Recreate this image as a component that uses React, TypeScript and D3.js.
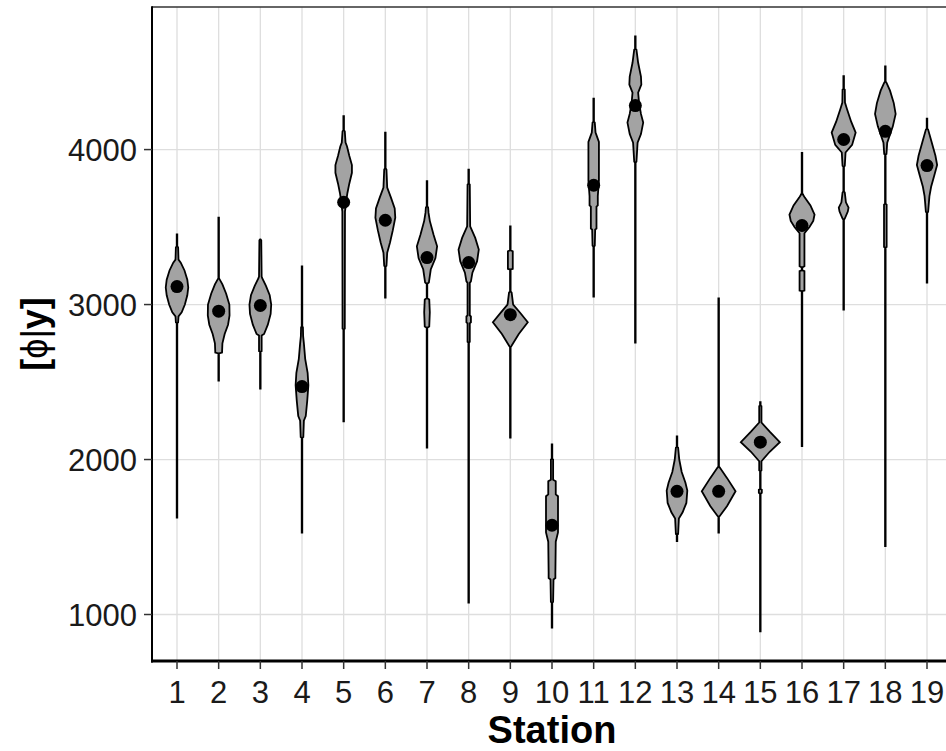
import React from "react";
import * as d3 from "d3";

const stations = ["1","2","3","4","5","6","7","8","9","10","11","12","13","14","15","16","17","18","19"];
const yTicks = [1000, 2000, 3000, 4000];
const means = [3116, 2957, 2994, 2471, 3660, 3544, 3303, 3271, 2935, 1576, 3770, 4284, 1795, 1795, 2112, 3510, 4065, 4118, 3897];

// density profiles: [value, relative half-width]
const dens1 = [[1626,0.015],[2880,0.015],[2885,0.06],[2924,0.08],[2950,0.25],[3000,0.42],[3060,0.55],[3110,0.6],[3160,0.55],[3220,0.4],[3270,0.2],[3290,0.08],[3370,0.06],[3375,0.015],[3452,0.015]];
const dens2 = [[2510,0.015],[2685,0.015],[2690,0.18],[2750,0.2],[2810,0.32],[2870,0.5],[2930,0.58],[3000,0.57],[3070,0.4],[3130,0.2],[3161,0.06],[3170,0.015],[3561,0.015]];
const dens3 = [[2458,0.015],[2697,0.015],[2700,0.07],[2800,0.07],[2810,0.2],[2870,0.4],[2940,0.55],[3000,0.58],[3060,0.5],[3120,0.3],[3170,0.1],[3180,0.07],[3415,0.05],[3420,0.015]];
const dens4 = [[1529,0.015],[2140,0.015],[2145,0.07],[2250,0.1],[2280,0.2],[2380,0.28],[2480,0.34],[2560,0.3],[2650,0.17],[2750,0.1],[2796,0.06],[2852,0.05],[2860,0.015],[3247,0.015]];
const dens5 = [[2247,0.015],[2839,0.015],[2845,0.06],[3600,0.07],[3680,0.15],[3720,0.2],[3780,0.3],[3850,0.44],[3900,0.44],[3960,0.3],[4020,0.18],[4045,0.1],[4118,0.06],[4125,0.015],[4215,0.015]];
const dens6 = [[3045,0.015],[3245,0.015],[3250,0.06],[3335,0.1],[3400,0.25],[3480,0.4],[3560,0.53],[3620,0.5],[3690,0.3],[3755,0.1],[3871,0.06],[3880,0.015],[4110,0.015]];
const dens7 = [[2077,0.015],[2850,0.015],[2858,0.12],[2950,0.15],[3032,0.12],[3040,0.015],[3135,0.015],[3142,0.1],[3226,0.2],[3300,0.45],[3376,0.54],[3450,0.35],[3540,0.15],[3593,0.08],[3626,0.06],[3635,0.015],[3796,0.015]];
const dens8 = [[1077,0.015],[2755,0.015],[2760,0.06],[2880,0.06],[2885,0.12],[2923,0.12],[2930,0.06],[3140,0.06],[3150,0.12],[3206,0.2],[3280,0.45],[3355,0.54],[3430,0.35],[3505,0.08],[3774,0.06],[3780,0.015],[3871,0.015]];
const dens9 = [[2142,0.015],[2725,0.015],[2731,0.05],[2810,0.45],[2886,0.93],[2950,0.5],[3000,0.15],[3077,0.07],[3085,0.015],[3226,0.015],[3230,0.13],[3344,0.13],[3350,0.015],[3505,0.015]];
const dens10 = [[916,0.015],[1077,0.015],[1082,0.06],[1226,0.08],[1235,0.18],[1270,0.18],[1470,0.2],[1530,0.32],[1763,0.32],[1775,0.2],[1860,0.2],[1870,0.06],[2000,0.06],[2005,0.015],[2097,0.015]];
const dens11 = [[3052,0.015],[3374,0.015],[3380,0.06],[3484,0.08],[3490,0.15],[3632,0.15],[3640,0.22],[3700,0.22],[3800,0.28],[4050,0.28],[4100,0.13],[4110,0.1],[4174,0.06],[4180,0.015],[4329,0.015]];
const dens12 = [[2755,0.015],[3916,0.015],[3922,0.06],[4045,0.12],[4100,0.3],[4174,0.42],[4230,0.3],[4300,0.2],[4368,0.15],[4420,0.32],[4471,0.3],[4560,0.15],[4626,0.08],[4645,0.06],[4650,0.015],[4731,0.015]];
const dens13 = [[1473,0.015],[1516,0.015],[1520,0.06],[1620,0.1],[1660,0.3],[1720,0.5],[1800,0.55],[1850,0.45],[1920,0.25],[2000,0.12],[2077,0.06],[2082,0.015],[2150,0.015]];
const dens14 = [[1529,0.015],[1630,0.015],[1634,0.05],[1700,0.45],[1795,0.9],[1880,0.45],[1948,0.06],[1955,0.015],[3039,0.015]];
const dens15 = [[892,0.015],[1780,0.015],[1785,0.08],[1805,0.08],[1810,0.015],[1925,0.015],[1930,0.06],[1989,0.06],[2050,0.5],[2112,1.04],[2180,0.5],[2239,0.06],[2345,0.06],[2350,0.015],[2370,0.015]];
const dens16 = [[2086,0.015],[3086,0.015],[3090,0.13],[3215,0.13],[3220,0.015],[3240,0.015],[3247,0.13],[3460,0.13],[3500,0.4],[3540,0.6],[3581,0.67],[3640,0.45],[3690,0.15],[3710,0.05],[3720,0.015],[3978,0.015]];
const dens17 = [[2968,0.015],[3548,0.015],[3555,0.06],[3600,0.22],[3625,0.26],[3660,0.12],[3723,0.06],[3730,0.015],[3890,0.015],[3895,0.06],[3981,0.1],[4030,0.45],[4110,0.64],[4180,0.4],[4260,0.18],[4303,0.07],[4387,0.06],[4392,0.015],[4473,0.015]];
const dens18 = [[1441,0.015],[3368,0.015],[3372,0.07],[3645,0.07],[3650,0.015],[3968,0.015],[3972,0.06],[4045,0.1],[4080,0.2],[4150,0.4],[4230,0.55],[4300,0.45],[4380,0.25],[4432,0.06],[4440,0.015],[4537,0.015]];
const dens19 = [[3142,0.015],[3593,0.015],[3598,0.06],[3658,0.1],[3700,0.13],[3760,0.22],[3830,0.38],[3900,0.54],[3960,0.45],[4060,0.22],[4129,0.06],[4135,0.015],[4200,0.015]];

const densities = [dens1,dens2,dens3,dens4,dens5,dens6,dens7,dens8,dens9,dens10,dens11,dens12,dens13,dens14,dens15,dens16,dens17,dens18,dens19];

const W = 946, H = 751;
const panel = { left: 152, top: 7, right: 952, bottom: 661 };
const FONT = "'Liberation Sans', Arial, sans-serif";

export default function App() {
  const x = d3.scalePoint<string>().domain(stations).range([panel.left, panel.right]).padding(0.6);
  const y = d3.scaleLinear().domain([700, 4920]).range([panel.bottom, panel.top]);
  const step = x.step();
  const w = d3.scaleLinear().domain([0, 1]).range([0, step * 0.45]);

  return (
    <svg width={W} height={H} style={{ position: "absolute", left: 0, top: 0, background: "#fff" }}>
      <defs>
        <clipPath id="pc">
          <rect x={panel.left} y={panel.top} width={panel.right - panel.left} height={panel.bottom - panel.top} />
        </clipPath>
      </defs>
      <rect x={0} y={0} width={W} height={H} fill="#fff" />
      {/* grid */}
      <g stroke="#DEDEDE" strokeWidth={1.3}>
        {yTicks.map(t => (
          <line key={"gy" + t} x1={panel.left} x2={panel.right} y1={y(t)} y2={y(t)} />
        ))}
        {stations.map(s => (
          <line key={"gx" + s} x1={x(s)} x2={x(s)} y1={panel.top} y2={panel.bottom} />
        ))}
      </g>
      {/* violins */}
      <g clipPath="url(#pc)">
        {stations.map((s, i) => {
          const cx = x(s) as number;
          const area = d3.area<number[]>()
            .y(d => y(d[0]))
            .x0(d => cx - w(d[1]))
            .x1(d => cx + w(d[1]));
          return (
            <g key={"v" + s}>
              <path d={area(densities[i]) || ""} fill="#A3A3A3" stroke="#000" strokeWidth={1.8} strokeLinejoin="miter" />
              <circle cx={cx} cy={y(means[i])} r={6.5} fill="#000" />
            </g>
          );
        })}
      </g>
      {/* panel border */}
      <line x1={panel.left} x2={panel.right} y1={panel.top} y2={panel.top} stroke="#333" strokeWidth={1.5} />
      <line x1={panel.left} x2={panel.left} y1={panel.top - 0.75} y2={panel.bottom + 1.5} stroke="#000" strokeWidth={2} />
      <line x1={panel.left - 1} x2={panel.right} y1={panel.bottom} y2={panel.bottom} stroke="#000" strokeWidth={3} />
      {/* y ticks */}
      {yTicks.map(t => (
        <g key={"ty" + t}>
          <line x1={panel.left - 8} x2={panel.left} y1={y(t)} y2={y(t)} stroke="#333" strokeWidth={1.5} />
          <text x={panel.left - 15} y={y(t)} dy="0.36em" textAnchor="end" fontFamily={FONT} fontSize={31} fill="#1a1a1a">{t}</text>
        </g>
      ))}
      {/* x ticks */}
      {stations.map(s => (
        <g key={"tx" + s}>
          <line x1={x(s)} x2={x(s)} y1={panel.bottom} y2={panel.bottom + 8} stroke="#333" strokeWidth={1.5} />
          <text x={x(s)} y={703} textAnchor="middle" fontFamily={FONT} fontSize={31} fill="#1a1a1a">{s}</text>
        </g>
      ))}
      {/* axis titles */}
      <text x={(panel.left + panel.right) / 2} y={743} textAnchor="middle" fontFamily={FONT} fontSize={38} fontWeight="bold" fill="#000">Station</text>
      <text transform={`translate(47, ${(panel.top + panel.bottom) / 2}) rotate(-90)`} textAnchor="middle" fontFamily={FONT} fontSize={36} fill="#000">
        <tspan fontWeight="bold">[</tspan>
        <tspan>ϕ|</tspan>
        <tspan fontWeight="bold">y]</tspan>
      </text>
    </svg>
  );
}
